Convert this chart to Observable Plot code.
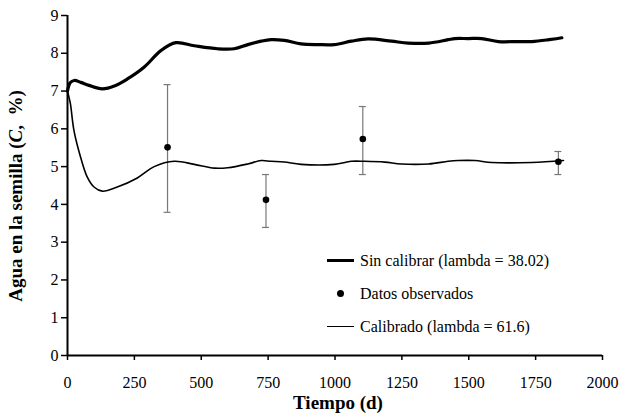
<!DOCTYPE html>
<html><head><meta charset="utf-8">
<script src="https://cdn.jsdelivr.net/npm/d3@7"></script>
<script src="https://cdn.jsdelivr.net/npm/@observablehq/plot@0.6"></script>
<style>
body{margin:0;background:#fff;}
#wrap{position:relative;width:619px;height:414px;font-family:"Liberation Serif",Tinos,"Times New Roman","DejaVu Serif",serif;}
#wrap svg text{font-family:"Liberation Serif",Tinos,"Times New Roman","DejaVu Serif",serif;}
#legend{position:absolute;left:327px;top:244px;font-size:16px;color:#000;}
.row{display:flex;align-items:center;height:33px;}
.sw{width:27px;height:0;border-top:3px solid #000;margin-right:6px;}
.sw.thin{border-top-width:1px;}
.dotsw{width:27px;margin-right:6px;display:flex;justify-content:center;}
.dotsw span{display:block;width:7px;height:7px;border-radius:50%;background:#000;}
</style></head>
<body><div id="wrap"><div id="legend"></div></div>
<script>
// Sin calibrar (lambda = 38.02)
const daysSin = [0, 10, 25, 50, 80, 130, 180, 224, 286, 349, 405, 474, 561, 623, 674, 724, 761, 810, 873, 937, 997, 1061, 1123, 1211, 1274, 1350, 1423, 1448, 1498, 1548, 1611, 1680, 1736, 1800, 1848];
const valSin = [7.0, 7.22, 7.28, 7.23, 7.15, 7.06, 7.15, 7.32, 7.63, 8.07, 8.28, 8.2, 8.12, 8.12, 8.23, 8.32, 8.36, 8.34, 8.25, 8.23, 8.23, 8.32, 8.38, 8.32, 8.27, 8.27, 8.36, 8.39, 8.39, 8.39, 8.31, 8.31, 8.31, 8.36, 8.41];
// Calibrado (lambda = 61.6)
const daysCal = [0, 5, 11, 24, 49, 74, 99, 130, 186, 261, 324, 399, 474, 549, 599, 674, 724, 761, 810, 873, 997, 1061, 1110, 1186, 1248, 1350, 1423, 1461, 1523, 1586, 1736, 1854];
const valCal = [7.0, 6.85, 6.66, 5.96, 5.25, 4.72, 4.46, 4.35, 4.46, 4.70, 5.0, 5.14, 5.06, 4.96, 4.97, 5.07, 5.16, 5.14, 5.12, 5.06, 5.06, 5.14, 5.14, 5.12, 5.07, 5.07, 5.14, 5.16, 5.16, 5.11, 5.11, 5.16];
// Datos observados
const obsDays = [374, 742, 1104, 1835];
const obsMean = [5.51, 4.12, 5.73, 5.13];
const obsLow = [3.79, 3.39, 4.79, 4.79];
const obsHigh = [7.17, 4.79, 6.59, 5.40];
const xTicks = [0, 250, 500, 750, 1000, 1250, 1500, 1750, 2000];
const yTicks = [0, 1, 2, 3, 4, 5, 6, 7, 8, 9];
const legendLabels = ["Sin calibrar (lambda = 38.02)", "Datos observados", "Calibrado (lambda = 61.6)"];

const sin = daysSin.map((d, i) => ({x: d, y: valSin[i]}));
const cal = daysCal.map((d, i) => ({x: d, y: valCal[i]}));
const obs = obsDays.map((d, i) => ({x: d, y: obsMean[i], lo: obsLow[i], hi: obsHigh[i]}));
const capHalf = 13;
const serif = '"Liberation Serif",Tinos,"Times New Roman","DejaVu Serif",serif';

const chart = Plot.plot({
  width: 619, height: 414,
  marginLeft: 67, marginRight: 17, marginTop: 15, marginBottom: 59,
  style: {fontFamily: serif, fontSize: "16px", color: "#000", background: "#fff"},
  x: {domain: [0, 2000]},
  y: {domain: [0, 9]},
  marks: [
    Plot.axisX({ticks: xTicks, tickSize: 5, tickPadding: 16, label: null, tickFormat: d => String(d), stroke: "#000", strokeWidth: 1.5, fill: "#000", fontSize: 16}),
    Plot.axisY({ticks: yTicks, tickSize: 6, tickPadding: 3, label: null, stroke: "#000", strokeWidth: 1.5, fill: "#000", fontSize: 16}),
    Plot.ruleX(obs, {x: "x", y1: "lo", y2: "hi", stroke: "#777", strokeWidth: 1.2}),
    Plot.ruleY(obs, {y: "lo", x1: d => d.x - capHalf, x2: d => d.x + capHalf, stroke: "#777", strokeWidth: 1.2}),
    Plot.ruleY(obs, {y: "hi", x1: d => d.x - capHalf, x2: d => d.x + capHalf, stroke: "#777", strokeWidth: 1.2}),
    Plot.line(sin, {x: "x", y: "y", stroke: "#000", strokeWidth: 3.2, curve: "catmull-rom"}),
    Plot.line(cal, {x: "x", y: "y", stroke: "#000", strokeWidth: 1.6, curve: "catmull-rom"}),
    Plot.dot(obs, {x: "x", y: "y", r: 3.3, fill: "#000"}),
    Plot.ruleX([0], {stroke: "#000", strokeWidth: 2}),
    Plot.ruleY([0], {stroke: "#000", strokeWidth: 2})
  ]
});
document.getElementById("wrap").prepend(chart);

// Axis titles
const svg = d3.select(chart);
const yl = svg.append("text")
  .attr("transform", "translate(22,196) rotate(-90)")
  .attr("text-anchor", "middle")
  .style("font-weight", "bold").style("font-size", "19px").attr("fill", "#000");
yl.append("tspan").text("Agua en la semilla (");
yl.append("tspan").style("font-style", "italic").text("C");
yl.append("tspan").text(",  %)");
svg.append("text")
  .attr("x", 338).attr("y", 409)
  .attr("text-anchor", "middle")
  .style("font-weight", "bold").style("font-size", "19px").attr("fill", "#000")
  .text("Tiempo (d)");

// Legend
const lg = d3.select("#legend");
const r1 = lg.append("div").attr("class", "row");
r1.append("div").attr("class", "sw");
r1.append("span").text(legendLabels[0]);
const r2 = lg.append("div").attr("class", "row");
r2.append("div").attr("class", "dotsw").append("span");
r2.append("span").text(legendLabels[1]);
const r3 = lg.append("div").attr("class", "row");
r3.append("div").attr("class", "sw thin");
r3.append("span").text(legendLabels[2]);
</script>
</body></html>
